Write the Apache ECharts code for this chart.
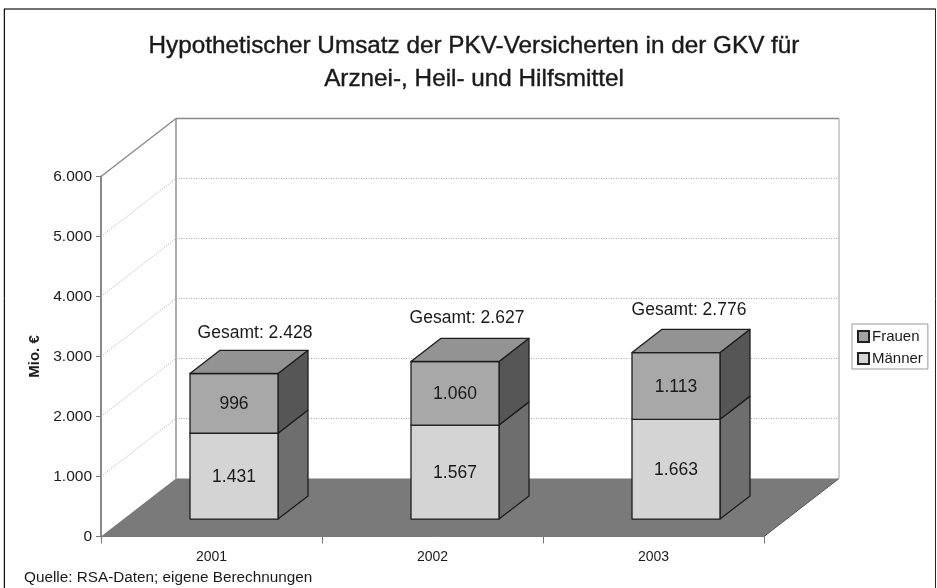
<!DOCTYPE html>
<html><head><meta charset="utf-8">
<style>html,body{margin:0;padding:0;background:#fff}#c{width:937px;height:588px}</style>
<script src="https://cdn.jsdelivr.net/npm/echarts@6/dist/echarts.min.js"></script>
</head><body><div id="c"></div>
<script>
const categories = ['2001', '2002', '2003'];
const maenner = [1431, 1567, 1663];
const frauen = [996, 1060, 1113];
const gesamt = [2428, 2627, 2776];
const yTicks = [1000, 2000, 3000, 4000, 5000, 6000];

const FONT = '"Liberation Sans", Arial, sans-serif';
const DX = 75, DY = -58;            // depth vector of the plot box
const NEAR = 0.3, FAR = 0.7;        // bar depth range inside the box
const HALF = 44;                    // half bar width
const GESAMT_SHIFT = [[6, -17], [-3, -20], [-2, -19]];  // manual label placement of the original
const fmt = v => String(v).replace(/\B(?=(\d{3})+$)/g, '.');

function wallItem(params, api) {
  const v = api.value(0), cs = params.coordSys;
  const y = api.coord([0, v])[1], x0 = cs.x;
  const solid = v === 6000;
  const shape = { x1: x0, y1: y, x2: x0 + DX, y2: y + DY };
  const style = solid ? { stroke: '#8a8a8a', lineWidth: 1.4, fill: null }
                      : { stroke: '#aaaaaa', lineWidth: 1, lineDash: [1, 1.5], fill: null };
  return { type: 'group', silent: true, children: [
    { type: 'line', shape, style },
    { type: 'line', shape: { x1: x0 + DX, y1: y + DY, x2: x0 + cs.width + DX, y2: y + DY }, style }
  ]};
}
function boxItem(params, api) {
  const cs = params.coordSys, x = cs.x, w = cs.width, b = cs.y + cs.height, t = cs.y;
  return { type: 'group', silent: true, children: [
    { type: 'polygon', shape: { points: [[x, b], [x + w, b], [x + w + DX, b + DY], [x + DX, b + DY]] },
      style: { fill: '#7a7a7a' } },
    { type: 'line', shape: { x1: x + DX, y1: t + DY, x2: x + DX, y2: b + DY },
      style: { stroke: '#8a8a8a', lineWidth: 1.4 } },
    { type: 'line', shape: { x1: x + w + DX, y1: t + DY, x2: x + w + DX, y2: b + DY },
      style: { stroke: '#a0a0a0', lineWidth: 1 } },
    { type: 'line', shape: { x1: x + w, y1: b, x2: x + w + DX, y2: b + DY },
      style: { stroke: '#555', lineWidth: 1 } }
  ]};
}
function barItem(colors, showTop) {
  return function (params, api) {
    const i = api.value(0), base = api.value(1), val = api.value(2);
    const c0 = api.coord([i, base]), c1 = api.coord([i, base + val]);
    const cx = c0[0] + DX * NEAR, nx = DX * (FAR - NEAR), ny = DY * (FAR - NEAR);
    const l = cx - HALF, r = cx + HALF, by = c0[1] + DY * NEAR, ty = c1[1] + DY * NEAR;
    const line = { stroke: '#1e1e1e', lineWidth: 1.3, lineJoin: 'round' };
    const children = [
      { type: 'polygon', shape: { points: [[r, by], [r + nx, by + ny], [r + nx, ty + ny], [r, ty]] },
        style: { fill: colors.side, ...line } },
      { type: 'rect', shape: { x: l, y: ty, width: r - l, height: by - ty },
        style: { fill: colors.front, ...line } },
      { type: 'text', style: { text: fmt(val), x: cx, y: (by + ty) / 2 + 1, align: 'center', verticalAlign: 'middle',
        font: '17.5px ' + FONT, fill: '#1a1a1a' } }
    ];
    if (showTop) {
      children.push({ type: 'polygon', shape: { points: [[l, ty], [r, ty], [r + nx, ty + ny], [l + nx, ty + ny]] },
        style: { fill: colors.top, ...line } });
      children.push({ type: 'text', style: { text: 'Gesamt: ' + fmt(gesamt[i]),
        x: cx + nx / 2 + GESAMT_SHIFT[i][0], y: ty + ny + GESAMT_SHIFT[i][1],
        align: 'center', verticalAlign: 'middle', font: '17.5px ' + FONT, fill: '#1a1a1a' } });
    }
    return { type: 'group', silent: true, children };
  };
}

const chart = echarts.init(document.getElementById('c'), null, { renderer: 'canvas' });
chart.setOption({
  animation: false,
  backgroundColor: '#fff',
  title: {
    text: 'Hypothetischer Umsatz der PKV-Versicherten in der GKV für\nArznei-, Heil- und Hilfsmittel',
    left: 469, top: 25, textAlign: 'center',
    textStyle: { fontFamily: FONT, fontSize: 24.3, fontWeight: 'normal', color: '#1a1a1a', lineHeight: 33,
      textBorderColor: '#1a1a1a', textBorderWidth: 0.4 }
  },
  legend: {
    orient: 'vertical', left: 852, top: 324, data: ['Frauen', 'Männer'],
    padding: [5, 5, 3, 5], itemGap: 7, itemWidth: 11, itemHeight: 11, icon: 'rect',
    backgroundColor: '#fff', borderColor: '#999', borderWidth: 1, selectedMode: false,
    textStyle: { fontFamily: FONT, fontSize: 15, color: '#1a1a1a', padding: [0, 0, 0, -2] }
  },
  grid: { left: 101, top: 176.5, width: 663, height: 360, containLabel: false },
  xAxis: {
    type: 'category', data: categories,
    axisLine: { lineStyle: { color: '#777', width: 1 } },
    axisTick: { show: true, length: 7, alignWithLabel: false, lineStyle: { color: '#777' } },
    axisLabel: { fontFamily: FONT, fontSize: 14, color: '#1a1a1a', margin: 14 },
    splitLine: { show: false }
  },
  yAxis: {
    type: 'value', min: 0, max: 6000, interval: 1000,
    name: 'Mio. €', nameLocation: 'middle', nameGap: 57, nameRotate: 90,
    nameTextStyle: { fontFamily: FONT, fontSize: 15, fontWeight: 'bold', color: '#1a1a1a' },
    axisLine: { show: true, lineStyle: { color: '#8a8a8a', width: 2 } },
    axisTick: { show: true, length: 5, lineStyle: { color: '#777' } },
    axisLabel: { fontFamily: FONT, fontSize: 15.5, color: '#1a1a1a', margin: 9, formatter: fmt },
    splitLine: { show: false }
  },
  graphic: [
    { type: 'line', silent: true, shape: { x1: 4, y1: 9, x2: 936, y2: 9 }, style: { stroke: '#707070', lineWidth: 2 } },
    { type: 'line', silent: true, shape: { x1: 3.5, y1: 9, x2: 3.5, y2: 588 }, style: { stroke: '#c8c8c8', lineWidth: 1 } },
    { type: 'line', silent: true, shape: { x1: 4.5, y1: 9, x2: 4.5, y2: 588 }, style: { stroke: '#111', lineWidth: 1 } },
    { type: 'line', silent: true, shape: { x1: 935.5, y1: 9, x2: 935.5, y2: 588 }, style: { stroke: '#222', lineWidth: 1 } },
    { type: 'text', left: 24, top: 570, silent: true,
      style: { text: 'Quelle: RSA-Daten; eigene Berechnungen', font: '15.3px ' + FONT, fill: '#1a1a1a' } }
  ],
  series: [
    { type: 'custom', name: 'box', z: 1, renderItem: boxItem, data: [[0]], encode: { x: 0 }, tooltip: { show: false } },
    { type: 'custom', name: 'walls', z: 1, renderItem: wallItem, data: yTicks.map(v => [v]), encode: { y: 0 } },
    { type: 'custom', name: 'Männer', z: 3, itemStyle: { color: '#d4d4d4', borderColor: '#222', borderWidth: 1 },
      renderItem: barItem({ front: '#d4d4d4', side: '#6e6e6e' }, false),
      data: maenner.map((v, i) => [i, 0, v]), encode: { x: 0, y: 2 } },
    { type: 'custom', name: 'Frauen', z: 4, itemStyle: { color: '#a4a4a4', borderColor: '#222', borderWidth: 1 },
      renderItem: barItem({ front: '#a8a8a8', side: '#565656', top: '#939393' }, true),
      data: frauen.map((v, i) => [i, maenner[i], v]), encode: { x: 0, y: 2 } }
  ]
});
</script></body></html>
